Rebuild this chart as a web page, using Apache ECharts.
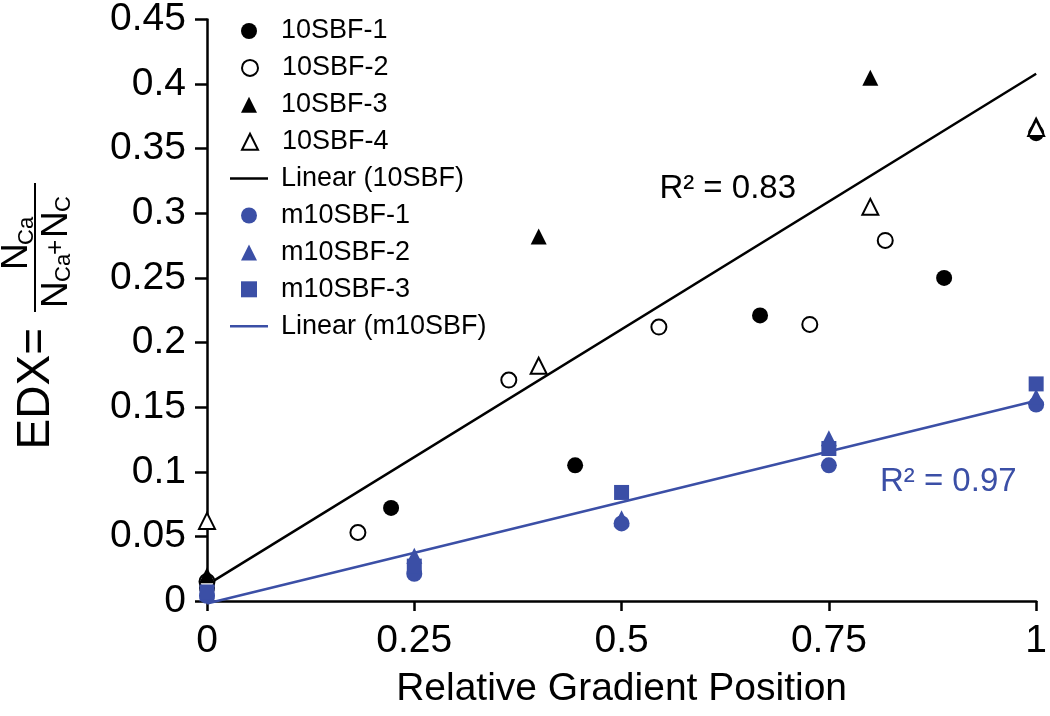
<!DOCTYPE html>
<html><head><meta charset="utf-8">
<script src="https://cdn.jsdelivr.net/npm/echarts@6/dist/echarts.min.js"></script>
<style>html,body{margin:0;padding:0;background:#fff}#c{width:1050px;height:716px}</style>
</head><body><div id="c"></div>
<script>
// ---- data ----
const sbf1X = [0, 0.222, 0.444, 0.667, 0.889, 1];
const sbf1Y = [0.010, 0.072, 0.105, 0.221, 0.250, 0.362];
const sbf2X = [0, 0.182, 0.364, 0.545, 0.727, 0.818];
const sbf2Y = [0.015, 0.053, 0.171, 0.212, 0.214, 0.279];
const sbf3X = [0, 0.4, 0.8, 1];
const sbf3Y = [0.020, 0.282, 0.405, 0.369];
const sbf4X = [0, 0.4, 0.8, 1];
const sbf4Y = [0.062, 0.182, 0.305, 0.366];
const mX = [0, 0.25, 0.5, 0.75, 1];
const m1Y = [0.004, 0.021, 0.060, 0.105, 0.152];
const m2Y = [0.006, 0.035, 0.064, 0.126, 0.158];
const m3Y = [0.007, 0.027, 0.084, 0.118, 0.168];
const trendX = [0, 1];
const trend10Y = [0.0125, 0.408];
const trendMY = [-0.002, 0.155];
const r2Labels = ['R\u00b2 = 0.83', 'R\u00b2 = 0.97'];
const r2Pos = [[0.628, 0.319], [0.894, 0.092]];
const legendNames = ['10SBF-1','10SBF-2','10SBF-3','10SBF-4','Linear (10SBF)','m10SBF-1','m10SBF-2','m10SBF-3','Linear (m10SBF)'];
const xTicks = [0, 0.25, 0.5, 0.75, 1];

const BLUE = '#3B4FA6';
const FONT = '"Liberation Sans", Arial, sans-serif';
const zip = (xs, ys) => xs.map((x, i) => [x, ys[i]]);

function scatter(name, xs, ys, symbol, size, fill, stroke) {
  return {
    name, type: 'scatter', data: zip(xs, ys), symbol, symbolSize: size,
    itemStyle: { color: fill, borderColor: stroke || fill, borderWidth: stroke ? 2 : 0, opacity: 1 },
    emphasis: { disabled: true }, z: 3
  };
}
function trend(name, ys, color) {
  return {
    name, type: 'line', data: zip(trendX, ys), symbol: 'none', clip: false,
    lineStyle: { color, width: 2.5 }, itemStyle: { color }, emphasis: { disabled: true }, z: 2
  };
}
function annot(i, color) {
  return {
    type: 'scatter', data: [r2Pos[i]], symbolSize: 1, silent: true, z: 4,
    itemStyle: { color: 'rgba(255,255,255,0)', opacity: 1 },
    label: { show: true, position: 'inside', formatter: r2Labels[i], color, opacity: 1, fontSize: 33, fontFamily: FONT }
  };
}

// one legend component per row so each icon keeps its own shape
const legends = legendNames.map((n, i) => {
  const isLine = n.indexOf('Linear') === 0;
  const cy = 31 + 36.9 * i;
  return {
    data: isLine ? [{ name: n, icon: 'rect' }] : [n],
    orient: 'vertical', left: isLine ? 230 : 241, top: cy - 13.5, padding: 0,
    itemWidth: isLine ? 38 : 16, itemHeight: isLine ? 2.5 : 16,
    textStyle: { fontSize: 27, color: '#000', fontFamily: FONT, padding: [0, 0, 0, isLine ? 8 : 19] },
    selectedMode: false
  };
});

const chart = echarts.init(document.getElementById('c'), null, { renderer: 'canvas' });
chart.setOption({
  animation: false,
  backgroundColor: '#fff',
  grid: { left: 207, right: 10, top: 15, bottom: 115, containLabel: false },
  xAxis: {
    type: 'value', min: 0, max: 1, interval: 0.25,
    name: 'Relative Gradient Position', nameLocation: 'middle', nameGap: 69,
    nameTextStyle: { fontSize: 39, color: '#000', fontFamily: FONT },
    axisLine: { show: true, onZero: false, lineStyle: { color: '#000', width: 2.5 } },
    axisTick: { show: true, inside: false, length: 10, lineStyle: { color: '#000', width: 2.5 } },
    axisLabel: { fontSize: 39, color: '#000', fontFamily: FONT, margin: 21 },
    splitLine: { show: false }
  },
  yAxis: {
    type: 'value', min: 0, max: 0.45, interval: 0.05,
    axisLine: { show: true, onZero: false, lineStyle: { color: '#000', width: 2.5 } },
    axisTick: { show: true, inside: false, length: 12, lineStyle: { color: '#000', width: 2.5 } },
    axisLabel: { fontSize: 39, color: '#000', fontFamily: FONT, margin: 21 },
    splitLine: { show: false }
  },
  legend: legends,
  series: [
    scatter('10SBF-1', sbf1X, sbf1Y, 'circle', 16, '#000', null),
    scatter('10SBF-2', sbf2X, sbf2Y, 'circle', 15, '#fff', '#000'),
    scatter('10SBF-3', sbf3X, sbf3Y, 'triangle', 16, '#000', null),
    scatter('10SBF-4', sbf4X, sbf4Y, 'triangle', 16, '#fff', '#000'),
    trend('Linear (10SBF)', trend10Y, '#000'),
    scatter('m10SBF-1', mX, m1Y, 'circle', 16, BLUE, null),
    scatter('m10SBF-2', mX, m2Y, 'triangle', 16, BLUE, null),
    scatter('m10SBF-3', mX, m3Y, 'rect', 15, BLUE, null),
    trend('Linear (m10SBF)', trendMY, BLUE),
    annot(0, '#000'),
    annot(1, BLUE)
  ],
  graphic: [{
    type: 'group', x: 0, y: 490, rotation: Math.PI / 2,
    children: [
      { type: 'text', x: 162, y: 36, style: { text: 'EDX=', fontSize: 46, fontFamily: FONT, fill: '#000', align: 'right', verticalAlign: 'middle', textAlign: 'right', textVerticalAlign: 'middle' } },
      { type: 'line', shape: { x1: 178, y1: 35, x2: 307, y2: 35 }, style: { stroke: '#000', lineWidth: 2 } },
      { type: 'text', x: 220, y: 17, style: { text: 'N', fontSize: 37, fontFamily: FONT, fill: '#000', align: 'left', verticalAlign: 'middle', textAlign: 'left', textVerticalAlign: 'middle' } },
      { type: 'text', x: 245, y: 27, style: { text: 'Ca', fontSize: 22, fontFamily: FONT, fill: '#000', align: 'left', verticalAlign: 'middle', textAlign: 'left', textVerticalAlign: 'middle' } },
      { type: 'text', x: 182, y: 57, style: { text: 'N', fontSize: 37, fontFamily: FONT, fill: '#000', align: 'left', verticalAlign: 'middle', textAlign: 'left', textVerticalAlign: 'middle' } },
      { type: 'text', x: 208, y: 64, style: { text: 'Ca', fontSize: 22, fontFamily: FONT, fill: '#000', align: 'left', verticalAlign: 'middle', textAlign: 'left', textVerticalAlign: 'middle' } },
      { type: 'text', x: 235, y: 56, style: { text: '+', fontSize: 26, fontFamily: FONT, fill: '#000', align: 'left', verticalAlign: 'middle', textAlign: 'left', textVerticalAlign: 'middle' } },
      { type: 'text', x: 252, y: 57, style: { text: 'N', fontSize: 37, fontFamily: FONT, fill: '#000', align: 'left', verticalAlign: 'middle', textAlign: 'left', textVerticalAlign: 'middle' } },
      { type: 'text', x: 278, y: 64, style: { text: 'C', fontSize: 22, fontFamily: FONT, fill: '#000', align: 'left', verticalAlign: 'middle', textAlign: 'left', textVerticalAlign: 'middle' } }
    ]
  }]
});
</script></body></html>
